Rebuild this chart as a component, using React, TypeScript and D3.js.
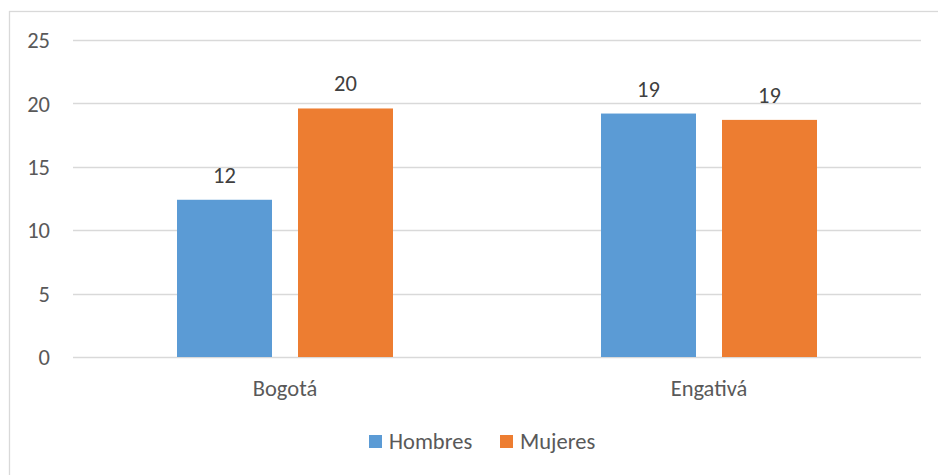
import React from 'react';
import * as d3 from 'd3';

const categories = ['Bogotá', 'Engativá'];
const seriesNames = ['Hombres', 'Mujeres'];
const hombres = [12.4, 19.2];
const mujeres = [19.6, 18.7];
const yTicks = [0, 5, 10, 15, 20, 25];
const colors = ['#5B9BD5', '#ED7D31'];

const W = 938;
const H = 475;
const margin = { top: 40, bottom: 118, left: 73, right: 17 };
const font = 'Calibri, Carlito, Lato, sans-serif';
const textColor = '#595959';
const fs = 22.5;

export default function App() {
  const values = [hombres, mujeres];

  const x0 = d3
    .scaleBand<string>()
    .domain(categories)
    .range([margin.left, W - margin.right])
    .padding(0);

  const x1 = d3
    .scaleBand<string>()
    .domain(seriesNames)
    .range([104, x0.bandwidth() - 104])
    .paddingInner(0.215)
    .paddingOuter(0);

  const y = d3
    .scaleLinear()
    .domain([0, 25])
    .range([H - margin.bottom, margin.top]);

  return (
    <svg
      width={W}
      height={H}
      style={{ position: 'absolute', left: 0, top: 0, background: '#fff' }}
      fontFamily={font}
    >
      <rect x={9.5} y={11.5} width={W + 20} height={H + 20} fill="#fff" stroke="#d9d9d9" strokeWidth={1.3} />

      {yTicks.map((t) => (
        <g key={t}>
          <line
            x1={margin.left}
            x2={W - margin.right}
            y1={Math.round(y(t)) + 0.5}
            y2={Math.round(y(t)) + 0.5}
            stroke="#d9d9d9"
            strokeWidth={1.4}
          />
          <text
            x={50}
            y={y(t)}
            dy="0.36em"
            textAnchor="end"
            fontSize={fs}
            fill={textColor}
          >
            {t}
          </text>
        </g>
      ))}

      {categories.map((c, i) => (
        <g key={c} transform={`translate(${x0(c)},0)`}>
          {seriesNames.map((s, j) => {
            const v = values[j][i];
            const bx = x1(s) as number;
            return (
              <g key={s}>
                <rect
                  x={bx}
                  y={y(v)}
                  width={x1.bandwidth()}
                  height={y(0) - y(v)}
                  fill={colors[j]}
                />
                <text
                  x={bx + x1.bandwidth() / 2}
                  y={y(v) - 17}
                  textAnchor="middle"
                  fontSize={fs}
                  fill="#404040"
                >
                  {Math.round(v)}
                </text>
              </g>
            );
          })}
          <text
            x={x0.bandwidth() / 2}
            y={396}
            textAnchor="middle"
            fontSize={fs}
            fill={textColor}
          >
            {c}
          </text>
        </g>
      ))}

      {seriesNames.map((s, j) => {
        const lx = [369, 500][j];
        return (
          <g key={s}>
            <rect x={lx} y={435} width={13} height={13} fill={colors[j]} />
            <text x={lx + 20} y={449} fontSize={fs} fill={textColor}>
              {s}
            </text>
          </g>
        );
      })}
    </svg>
  );
}
